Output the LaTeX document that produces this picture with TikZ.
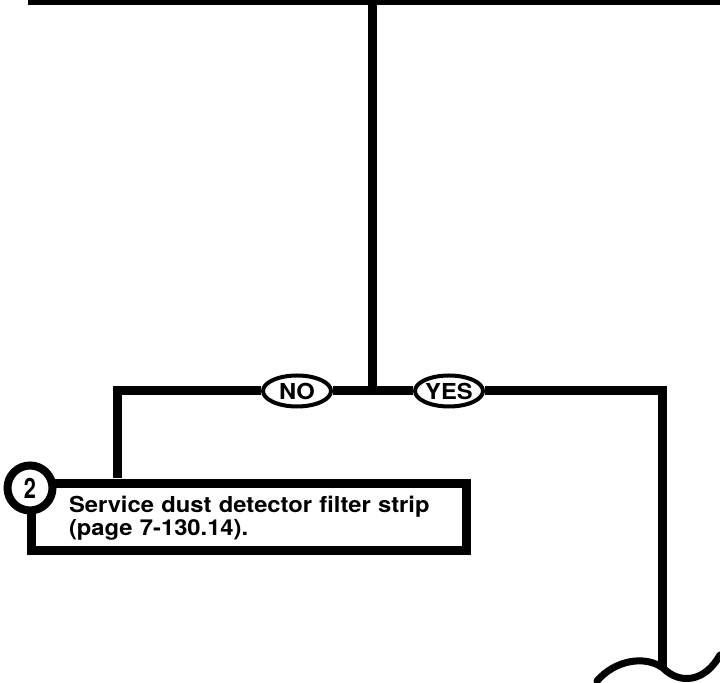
\documentclass[tikz,border=0pt]{standalone}
\usepackage{fontspec}
\setmainfont[FakeStretch=1.08]{TeX Gyre Heros}
\usepackage{tikz}
\usetikzlibrary{positioning,shapes.geometric,calc}
\definecolor{inkblack}{RGB}{0,0,0}
\colorlet{figink}{inkblack}

\begin{document}
\begin{tikzpicture}[
  x=0.5pt, y=-0.5pt,
  font=\bfseries,
  wire/.style={draw=figink, line width=4.5pt},
  answer/.style={ellipse, draw=figink, line width=2pt, fill=white, minimum width=34pt, minimum height=15.5pt, inner sep=0pt, font=\fontsize{11}{12}\selectfont\bfseries},
  actionbox/.style={rectangle, draw=figink, line width=4.5pt, outer sep=0pt, inner xsep=18.5pt, inner ysep=0pt, text width=180.5pt, align=left, text height=14.5pt, text depth=19pt, font=\fontsize{11}{10}\selectfont\bfseries},
  stepnum/.style={circle, draw=figink, line width=4pt, fill=white, minimum size=22.5pt, inner sep=0pt, font=\fontsize{14}{14}\selectfont\bfseries},
]
  \useasboundingbox (0,0) rectangle (720,683);
  % rule at the top edge and the trunk that leaves it
  \coordinate (ruleL) at (28,0.5);
  \coordinate (ruleR) at (720,0.5);
  \coordinate (trunktop) at (373,0.5);
  \coordinate (fork) at (373,391);
  \coordinate (noturn) at (118,391);
  \coordinate (yesturn) at (663,391);
  \coordinate (cut) at (663,668);
  \coordinate (waveL) at (597,681);
  \coordinate (waveR) at (720,655);

  \node[actionbox, anchor=north west] (service) at (32,484) {\mbox{Service dust detector filter strip}\\(page 7-130.14).};
  \node[answer] (no) at (297,391) {NO};
  \node[answer] (yes) at (449,391) {YES};

  \draw[wire] (service.north -| noturn) ++(0,-6) -- (noturn) -- (no);
  \draw[wire] (ruleL) -- (ruleR);
  \draw[wire] (trunktop) -- (fork);
  \draw[wire] (no) -- (fork) -- (yes);
  \draw[wire] (yes) -- (yesturn) -- (cut);
  \draw[figink, line width=3.5pt, line cap=round] (waveL) .. controls (615,660) and (645,655) .. (cut) .. controls (680,685) and (705,682) .. (waveR);

  \node[stepnum] (num) at (30,488) {\scalebox{0.72}[1]{2}};
\end{tikzpicture}
\end{document}
